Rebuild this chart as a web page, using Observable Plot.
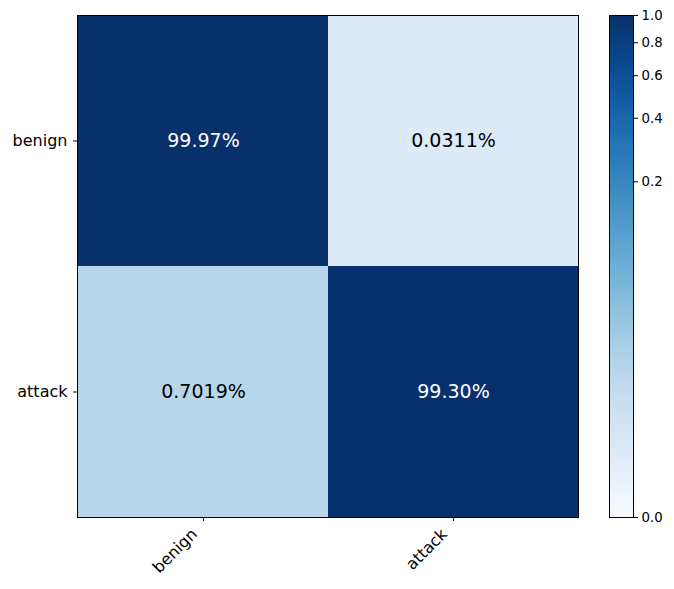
<!DOCTYPE html>
<html><head><meta charset="utf-8">
<script src="https://cdn.jsdelivr.net/npm/d3@7"></script>
<script src="https://cdn.jsdelivr.net/npm/@observablehq/plot@0.6"></script>
<style>
html,body{margin:0;padding:0;background:#fff;}
#wrap{position:relative;width:674px;height:589px;font-family:"DejaVu Sans",sans-serif;}
#main{position:absolute;left:0;top:0;}
#cbar{position:absolute;left:590px;top:0;}
</style></head>
<body><div id="wrap"><div id="main"></div><div id="cbar"></div></div>
<script>
const trueLabels = ["benign", "attack"];
const predLabels = ["benign", "attack"];
const values = [[0.9997, 0.000311], [0.007019, 0.9930]];
const cellText = [["99.97%", "0.0311%"], ["0.7019%", "99.30%"]];
const cbarTicks = [0, 0.2, 0.4, 0.6, 0.8, 1.0];

const cells = [];
trueLabels.forEach((t, i) => predLabels.forEach((p, j) => cells.push({true: t, pred: p, v: values[i][j], label: cellText[i][j]})));

const colorOpts = {type: "pow", exponent: 0.25, domain: [0, 1], scheme: "blues"};

const main = Plot.plot({
  width: 600, height: 589,
  marginLeft: 77, marginRight: 22, marginTop: 15, marginBottom: 72,
  style: {fontFamily: "DejaVu Sans", fontSize: "16px", color: "#000", background: "#fff"},
  x: {domain: predLabels, padding: 0, label: null},
  y: {domain: trueLabels, padding: 0, label: null},
  color: colorOpts,
  marks: [
    Plot.cell(cells, {x: "pred", y: "true", fill: "v"}),
    Plot.text(cells, {x: "pred", y: "true", text: "label", fontSize: 19, fill: d => d.v > 0.5 ? "white" : "black"}),
    Plot.axisX({tickSize: 4, tickPadding: 4, tickRotate: -45, text: null, label: null}),
    Plot.axisX({tickSize: 0, tickPadding: 4, tickRotate: -45, dx: -9, dy: 10, label: null}),
    Plot.axisY({tickSize: 4, tickPadding: 6, label: null}),
    Plot.frame({stroke: "black", strokeWidth: 1})
  ]
});
document.getElementById("main").appendChild(main);

const nSlices = 256;
const slices = d3.range(nSlices).map(k => ({y1: Math.pow(k / nSlices, 4), y2: Math.pow((k + 1) / nSlices, 4), v: Math.pow((k + 0.5) / nSlices, 4)}));

const cbar = Plot.plot({
  width: 84, height: 589,
  marginLeft: 19, marginRight: 41, marginTop: 15, marginBottom: 72,
  style: {fontFamily: "DejaVu Sans", fontSize: "13.3px", color: "#000", background: "transparent"},
  x: {domain: [0, 1], axis: null},
  y: {type: "pow", exponent: 0.25, domain: [0, 1], axis: "right", ticks: cbarTicks, tickFormat: ".1f", tickSize: 4, tickPadding: 4, label: null},
  color: colorOpts,
  marks: [
    Plot.rect(slices, {x1: 0, x2: 1, y1: "y1", y2: "y2", fill: "v", shapeRendering: "crispEdges"}),
    Plot.frame({stroke: "black", strokeWidth: 1})
  ]
});
document.getElementById("cbar").appendChild(cbar);
</script></body></html>
